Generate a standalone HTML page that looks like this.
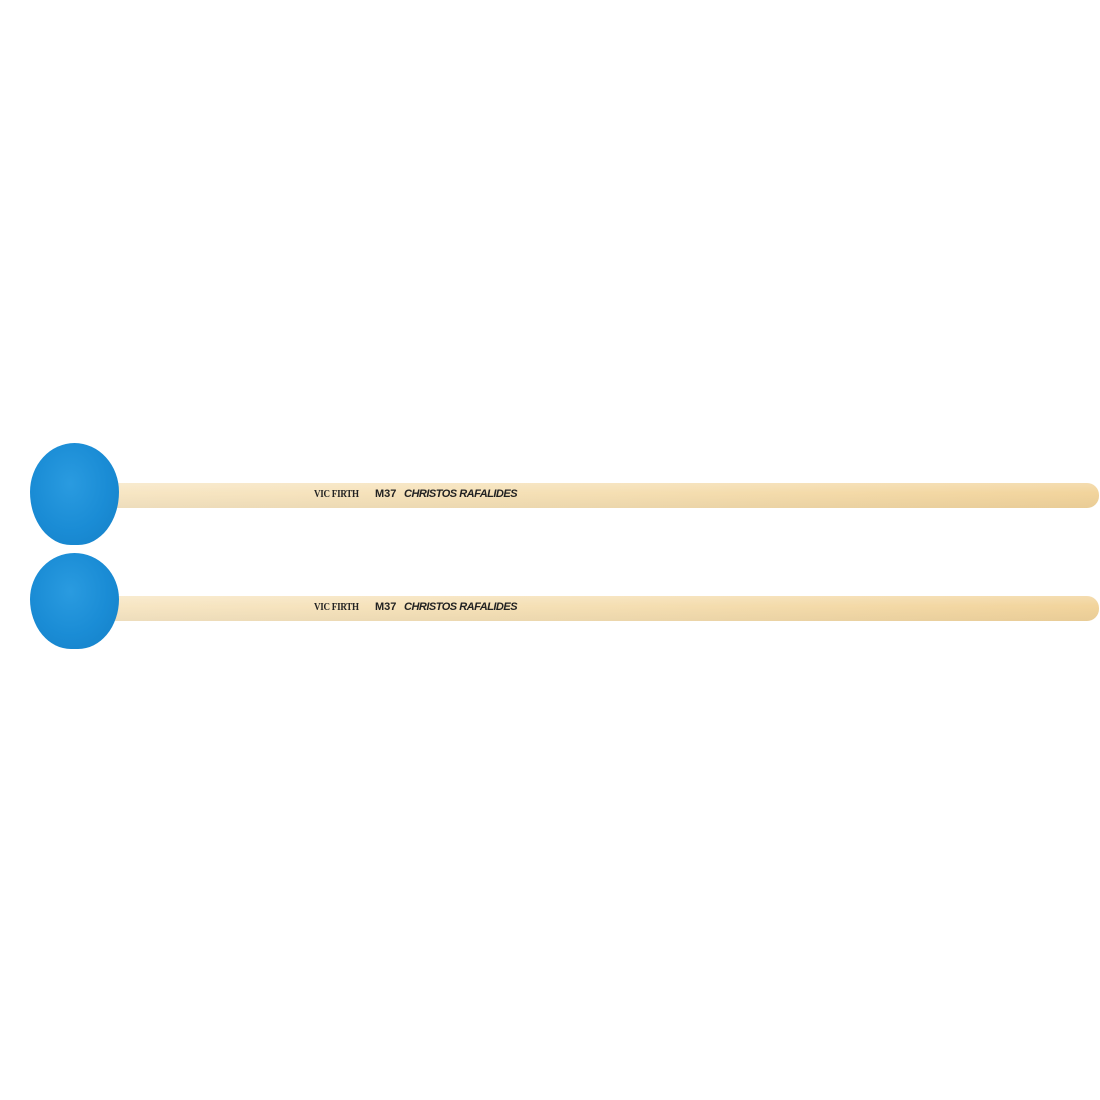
<!DOCTYPE html>
<html><head><style>
html,body{margin:0;padding:0;background:#fff;}
.wrap{position:relative;width:1100px;height:1100px;overflow:hidden;background:#fff;font-family:"Liberation Sans",sans-serif;}
.shaft{position:absolute;left:108px;width:991px;height:25px;border-radius:0 12px 12px 0;
background:linear-gradient(to right,#f7e6c4 0%,#f5dfb3 50%,#f2d49c 100%);}
.shaft::after{content:"";position:absolute;left:0;right:0;top:0;height:100%;border-radius:0 12px 12px 0;
background:linear-gradient(to bottom,rgba(255,255,255,0.2),rgba(0,0,0,0) 40%,rgba(0,0,0,0.04));}
.head{position:absolute;left:30px;width:89px;height:102px;
border-radius:50% 50% 46% 46% / 48% 48% 52% 52%;
background:radial-gradient(ellipse at 45% 40%,#2a9be0 0%,#1a8cd5 55%,#157fc6 100%);}
.t{position:absolute;font-size:11px;font-weight:bold;color:#222;white-space:nowrap;}
.vf{font-family:"Liberation Serif",serif;font-size:11px;letter-spacing:-0.3px;transform:scaleX(0.82);transform-origin:left;}
.cr{font-style:italic;letter-spacing:-0.5px;}
</style></head><body><div class="wrap">
<div class="shaft" style="top:483px"></div>
<div class="head" style="top:443px"></div>
<div class="t vf" style="left:314px;top:488px">VIC FIRTH</div>
<div class="t" style="left:375px;top:488px">M37</div>
<div class="t cr" style="left:404px;top:488px">CHRISTOS RAFALIDES</div>

<div class="shaft" style="top:596px"></div>
<div class="head" style="top:553px;height:96px"></div>
<div class="t vf" style="left:314px;top:601px">VIC FIRTH</div>
<div class="t" style="left:375px;top:601px">M37</div>
<div class="t cr" style="left:404px;top:601px">CHRISTOS RAFALIDES</div>
</div></body></html>
